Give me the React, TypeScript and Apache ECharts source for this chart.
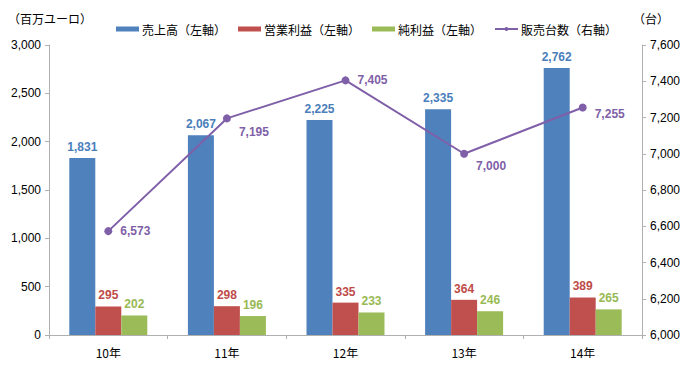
import React, { useEffect, useRef } from "react";
import * as echarts from "echarts";

const categories = ["10年", "11年", "12年", "13年", "14年"];
const sales = [1831, 2067, 2225, 2335, 2762];
const operatingProfit = [295, 298, 335, 364, 389];
const netProfit = [202, 196, 233, 246, 265];
const unitsSold = [6573, 7195, 7405, 7000, 7255];
const seriesNames = ["売上高（左軸）", "営業利益（左軸）", "純利益（左軸）", "販売台数（右軸）"];

const FONT = "'Liberation Sans', Arial, 'Noto Sans CJK JP', sans-serif";
const JFONT = "'Noto Sans CJK JP', 'Liberation Sans', sans-serif";
const fmt = (v: number) => v.toLocaleString("en-US");

export default function App() {
  const ref = useRef<HTMLDivElement>(null);
  useEffect(() => {
    if (!ref.current) return;
    const chart = echarts.init(ref.current, undefined, { renderer: "svg" });
    const axisLine = { show: true, lineStyle: { color: "#b0b0b0" } };
    const lineLabelOffsets = [[0, 0], [0, 14], [0, 0], [0, 12], [0, 6]];
    chart.setOption({
      animation: false,
      grid: { left: 49, right: 50, top: 45, bottom: 31 },
      legend: {
        top: 18,
        left: 111,
        itemGap: 12,
        itemWidth: 23,
        itemHeight: 5,
        textStyle: { fontFamily: JFONT, fontSize: 12, color: "#000", padding: [0, 0, 0, -2] },
        data: [
          { name: seriesNames[0], icon: "rect" },
          { name: seriesNames[1], icon: "rect" },
          { name: seriesNames[2], icon: "rect" },
          { name: seriesNames[3] },
        ],
      },
      xAxis: {
        type: "category",
        data: categories,
        axisLine,
        axisTick: { show: true, length: 4, lineStyle: { color: "#b0b0b0" } },
        axisLabel: { fontFamily: JFONT, fontSize: 12, color: "#000", margin: 11 },
      },
      yAxis: [
        {
          type: "value",
          min: 0,
          max: 3000,
          interval: 500,
          name: "（百万ユーロ）",
          nameGap: 21,
          nameTextStyle: { fontFamily: JFONT, fontSize: 12, color: "#000", align: "center", padding: [0, 0, 0, 2] },
          axisLine,
          axisTick: { show: true, length: 4, lineStyle: { color: "#b0b0b0" } },
          splitLine: { show: false },
          axisLabel: { fontFamily: FONT, fontSize: 12, color: "#000", margin: 8, formatter: (v: number) => fmt(v) },
        },
        {
          type: "value",
          min: 6000,
          max: 7600,
          interval: 200,
          name: "（台）",
          nameGap: 21,
          nameTextStyle: { fontFamily: JFONT, fontSize: 12, color: "#000", align: "left", padding: [0, 0, 0, -9] },
          axisLine,
          axisTick: { show: true, length: 4, lineStyle: { color: "#b0b0b0" } },
          splitLine: { show: false },
          axisLabel: { fontFamily: FONT, fontSize: 12, color: "#000", margin: 8, formatter: (v: number) => fmt(v) },
        },
      ],
      series: [
        {
          name: seriesNames[0],
          type: "bar",
          data: sales,
          barWidth: 26,
          barGap: "0%",
          itemStyle: { color: "#4F81BD" },
          label: { show: true, position: "top", distance: 5, color: "#4A7EBB", fontFamily: FONT, fontWeight: "bold", fontSize: 12, formatter: (p: any) => fmt(p.value) },
        },
        {
          name: seriesNames[1],
          type: "bar",
          data: operatingProfit,
          barWidth: 26,
          barGap: "0%",
          itemStyle: { color: "#C0504D" },
          label: { show: true, position: "top", distance: 5, color: "#BE4B48", fontFamily: FONT, fontWeight: "bold", fontSize: 12, formatter: (p: any) => fmt(p.value) },
        },
        {
          name: seriesNames[2],
          type: "bar",
          data: netProfit,
          barWidth: 26,
          barGap: "0%",
          itemStyle: { color: "#9BBB59" },
          label: { show: true, position: "top", distance: 5, color: "#98B954", fontFamily: FONT, fontWeight: "bold", fontSize: 12, formatter: (p: any) => fmt(p.value) },
        },
        {
          name: seriesNames[3],
          type: "line",
          yAxisIndex: 1,
          data: unitsSold.map((v, i) => ({
            value: v,
            label: { offset: lineLabelOffsets[i] },
          })),
          symbol: "circle",
          symbolSize: 8,
          itemStyle: { color: "#7F5FA8" },
          lineStyle: { color: "#7F5FA8", width: 2 },
          label: { show: true, position: "right", distance: 8, color: "#7F5FA8", fontFamily: FONT, fontWeight: "bold", fontSize: 12, formatter: (p: any) => fmt(p.value) },
          z: 5,
        },
      ],
    });
    return () => chart.dispose();
  }, []);
  return <div ref={ref} style={{ width: 692, height: 366, margin: -8, background: "#fff" }} />;
}
